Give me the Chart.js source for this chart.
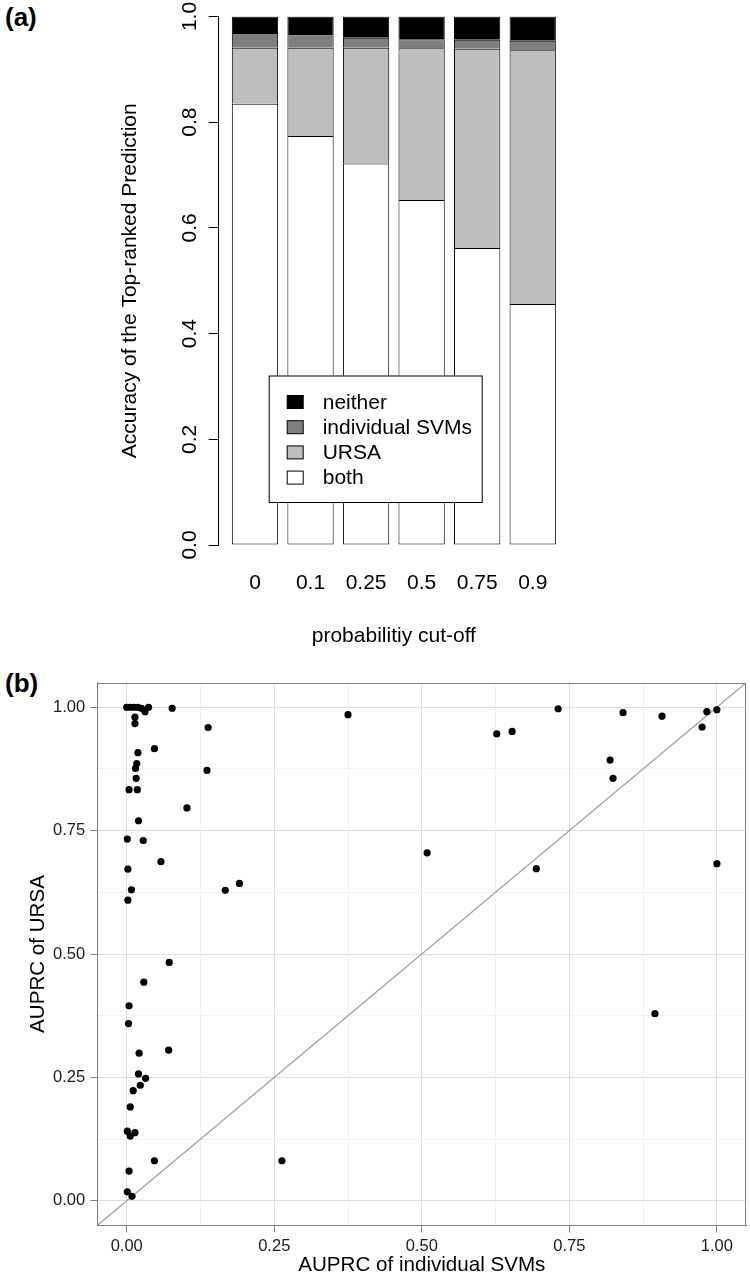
<!DOCTYPE html>
<html>
<head>
<meta charset="utf-8">
<script src="https://cdn.jsdelivr.net/npm/chart.js@4/dist/chart.umd.min.js"></script>
<style>
  html, body { margin:0; padding:0; background:#ffffff; }
  body { width:750px; height:1276px; position:relative; overflow:hidden; font-family:"Liberation Sans", Arial, Helvetica, sans-serif; }
  canvas { position:absolute; left:0; }
  #ca { top:0; }
  #cb { top:660px; }
  .plabel { position:absolute; left:5px; font-size:26px; line-height:26px; font-weight:bold; color:#000; }
</style>
</head>
<body>
<div class="plabel" style="top:4px">(a)</div>
<div class="plabel" style="top:670px">(b)</div>
<canvas id="ca" width="750" height="660"></canvas>
<canvas id="cb" width="750" height="616"></canvas>
<script>
// ---------- Panel (a) data ----------
const cutoffs = ['0', '0.1', '0.25', '0.5', '0.75', '0.9'];
const bothCorrect = [0.835, 0.774, 0.722, 0.653, 0.562, 0.456];
const ursaCorrect = [0.106, 0.167, 0.219, 0.287, 0.377, 0.480];
const svmCorrect  = [0.028, 0.023, 0.019, 0.017, 0.017, 0.018];
const neitherCorrect = [0.031, 0.036, 0.040, 0.043, 0.044, 0.046];
const accuracyTicks = [0, 0.2, 0.4, 0.6, 0.8, 1.0];

// ---------- Panel (b) data ----------
const auprcSVM = [
  0.000, 0.006, 0.012, 0.019, 0.025, 0.031, 0.037, 0.077, 0.375, 0.138,
  0.014, 0.014, 0.047, 0.019, 0.017, 0.015, 0.136, 0.016, 0.004, 0.018,
  0.102, 0.020, 0.001, 0.028, 0.058, 0.002, 0.008, 0.167, 0.191, 0.002,
  0.072, 0.029, 0.004, 0.003, 0.021, 0.071, 0.020, 0.032, 0.023, 0.011,
  0.006, 0.001, 0.006, 0.014, 0.047, 0.263, 0.004, 0.001, 0.009,
  0.731, 0.841, 0.907, 0.983, 1.000, 0.975, 0.627, 0.653, 0.819, 0.824,
  0.509, 0.694, 1.000, 0.895
];
const auprcURSA = [
  1.000, 1.000, 1.000, 1.000, 0.998, 0.991, 1.000, 0.998, 0.985, 0.959,
  0.980, 0.967, 0.916, 0.908, 0.886, 0.876, 0.872, 0.856, 0.833, 0.833,
  0.796, 0.770, 0.733, 0.730, 0.687, 0.672, 0.630, 0.629, 0.643, 0.609,
  0.483, 0.443, 0.395, 0.359, 0.299, 0.305, 0.257, 0.248, 0.234, 0.223,
  0.190, 0.141, 0.131, 0.138, 0.081, 0.081, 0.060, 0.018, 0.009,
  0.997, 0.989, 0.982, 0.991, 0.995, 0.960, 0.946, 0.951, 0.893, 0.856,
  0.705, 0.673, 0.683, 0.379
];
const auprcLimits = [-0.05, 1.05];
const auprcMajor = [0, 0.25, 0.5, 0.75, 1.0];
const auprcMinor = [0.125, 0.375, 0.625, 0.875];

const FONT = '"Liberation Sans", Arial, Helvetica, sans-serif';
Chart.defaults.font.family = FONT;

// ---------- Panel (a) ----------
const legendBox = {
  id: 'legendBox',
  afterDatasetsDraw(chart) {
    const {ctx, chartArea} = chart;
    const left = chartArea.left + 41.5, top = chartArea.top + 359;
    const w = 213, h = 126.5;
    ctx.save();
    ctx.fillStyle = '#ffffff';
    ctx.fillRect(left, top, w, h);
    ctx.strokeStyle = '#000000';
    ctx.lineWidth = 1;
    ctx.strokeRect(left + 0.5, top + 0.5, w, h);
    const items = chart.data.datasets.slice().reverse();
    ctx.font = '21px ' + FONT;
    ctx.textBaseline = 'middle';
    ctx.textAlign = 'left';
    items.forEach((ds, i) => {
      const cy = top + 26.5 + i * 25.2;
      ctx.fillStyle = ds.backgroundColor;
      ctx.fillRect(left + 18.5, cy - 6.5, 16, 13);
      ctx.strokeStyle = '#000';
      ctx.strokeRect(left + 18.5, cy - 6.5, 16, 13);
      ctx.fillStyle = '#000';
      ctx.fillText(ds.label, left + 54, cy + 1);
    });
    ctx.restore();
  }
};

const fontA = {family: FONT, size: 21};
new Chart(document.getElementById('ca'), {
  type: 'bar',
  data: {
    labels: cutoffs,
    datasets: [
      {label: 'both', data: bothCorrect, backgroundColor: '#ffffff', borderSkipped: false},
      {label: 'URSA', data: ursaCorrect, backgroundColor: '#bebebe'},
      {label: 'individual SVMs', data: svmCorrect, backgroundColor: '#7f7f7f'},
      {label: 'neither', data: neitherCorrect, backgroundColor: '#000000'}
    ]
  },
  options: {
    responsive: false, animation: false, devicePixelRatio: 1,
    layout: {padding: {left: 0, right: 189.5, top: 16.5, bottom: 0}},
    datasets: {bar: {borderColor: '#000000', borderWidth: 1, barPercentage: 0.8333, categoryPercentage: 1}},
    plugins: {legend: {display: false}, tooltip: {enabled: false}},
    scales: {
      x: {
        stacked: true,
        grid: {display: false, drawTicks: false},
        border: {display: false},
        ticks: {font: fontA, color: '#000', padding: 26, maxRotation: 0, autoSkip: false},
        title: {display: true, text: 'probabilitiy cut-off', font: fontA, color: '#000', padding: {top: 0, bottom: 11.4}},
        afterFit: s => { s.height = 115; s.paddingLeft = 0; s.paddingRight = 0; }
      },
      y: {
        stacked: true, min: 0, max: 1, weight: 1, position: 'left',
        afterBuildTicks: s => { s.ticks = accuracyTicks.map(v => ({value: v})); },
        ticks: {font: fontA, color: '#000', minRotation: 90, maxRotation: 90, crossAlign: 'center', padding: 4, callback: v => v.toFixed(1)},
        grid: {drawOnChartArea: false, drawTicks: true, tickLength: 10, color: '#000'},
        border: {display: true, color: '#000', width: 1},
        title: {display: true, text: 'Accuracy of the Top-ranked Prediction', font: fontA, color: '#000', padding: {top: 117.4, bottom: 0}},
        afterFit: s => { s.width = 218.7; s.paddingTop = 0; s.paddingBottom = 0; }
      },
      yPad: {
        type: 'linear', position: 'left', weight: 0, display: true,
        grid: {display: false, drawTicks: false}, border: {display: false}, ticks: {display: false},
        afterFit: s => { s.width = 8.5; s.paddingTop = 0; s.paddingBottom = 0; }
      }
    }
  },
  plugins: [legendBox]
});

// ---------- Panel (b) ----------
const panelFrame = {
  id: 'panelFrame',
  afterDraw(chart) {
    const {ctx, chartArea: a} = chart;
    ctx.save();
    ctx.strokeStyle = '#7f7f7f';
    ctx.lineWidth = 1;
    ctx.strokeRect(Math.round(a.left) + 0.5, Math.round(a.top) + 0.5, Math.round(a.right - a.left) - 1, Math.round(a.bottom - a.top) - 1);
    ctx.restore();
  }
};

const gridVals = auprcMajor.concat(auprcMinor).sort((a, b) => a - b);
const isMajor = v => auprcMajor.some(m => Math.abs(m - v) < 1e-9);
const tickFontB = {family: FONT, size: 16.5};
const titleFontB = {family: FONT, size: 20.6, lineHeight: 1};
const axisB = (titleText, fitFn, pad, titlePad) => ({
  type: 'linear', min: auprcLimits[0], max: auprcLimits[1],
  afterBuildTicks: s => { s.ticks = gridVals.map(v => ({value: v})); },
  ticks: {font: tickFontB, color: '#1a1a1a', padding: pad, maxRotation: 0, autoSkip: false,
          callback: v => isMajor(v) ? v.toFixed(2) : ''},
  grid: {color: c => isMajor(c.tick.value) ? '#dedede' : '#f1f1f1',
         tickColor: c => isMajor(c.tick.value) ? '#7f7f7f' : 'rgba(0,0,0,0)',
         tickLength: 7, drawTicks: true, lineWidth: 1},
  border: {display: true, color: '#7f7f7f'},
  title: {display: true, text: titleText, font: titleFontB, color: '#000', padding: titlePad},
  afterFit: fitFn
});

new Chart(document.getElementById('cb'), {
  type: 'scatter',
  data: {
    datasets: [
      {type: 'scatter', label: 'AUPRC', data: auprcSVM.map((x, i) => ({x: x, y: auprcURSA[i]})),
       backgroundColor: '#000000', borderWidth: 0, pointRadius: 3.6, pointHoverRadius: 3.6, order: 0},
      {type: 'line', label: 'y = x', data: auprcLimits.map(v => ({x: v, y: v})),
       borderColor: '#a3a3a3', borderWidth: 1.3, pointRadius: 0, fill: false, order: 1}
    ]
  },
  options: {
    responsive: false, animation: false, devicePixelRatio: 1,
    layout: {padding: {left: 0, right: 3.5, top: 22.6, bottom: 0}},
    plugins: {legend: {display: false}, tooltip: {enabled: false}},
    scales: {
      x: axisB('AUPRC of individual SVMs', s => { s.height = 50.6; }, 4, {top: 0, bottom: 0.7}),
      y: axisB('AUPRC of URSA', s => { s.width = 97.2; }, 5, {top: 27.7, bottom: 0})
    }
  },
  plugins: [panelFrame]
});
</script>
</body>
</html>
